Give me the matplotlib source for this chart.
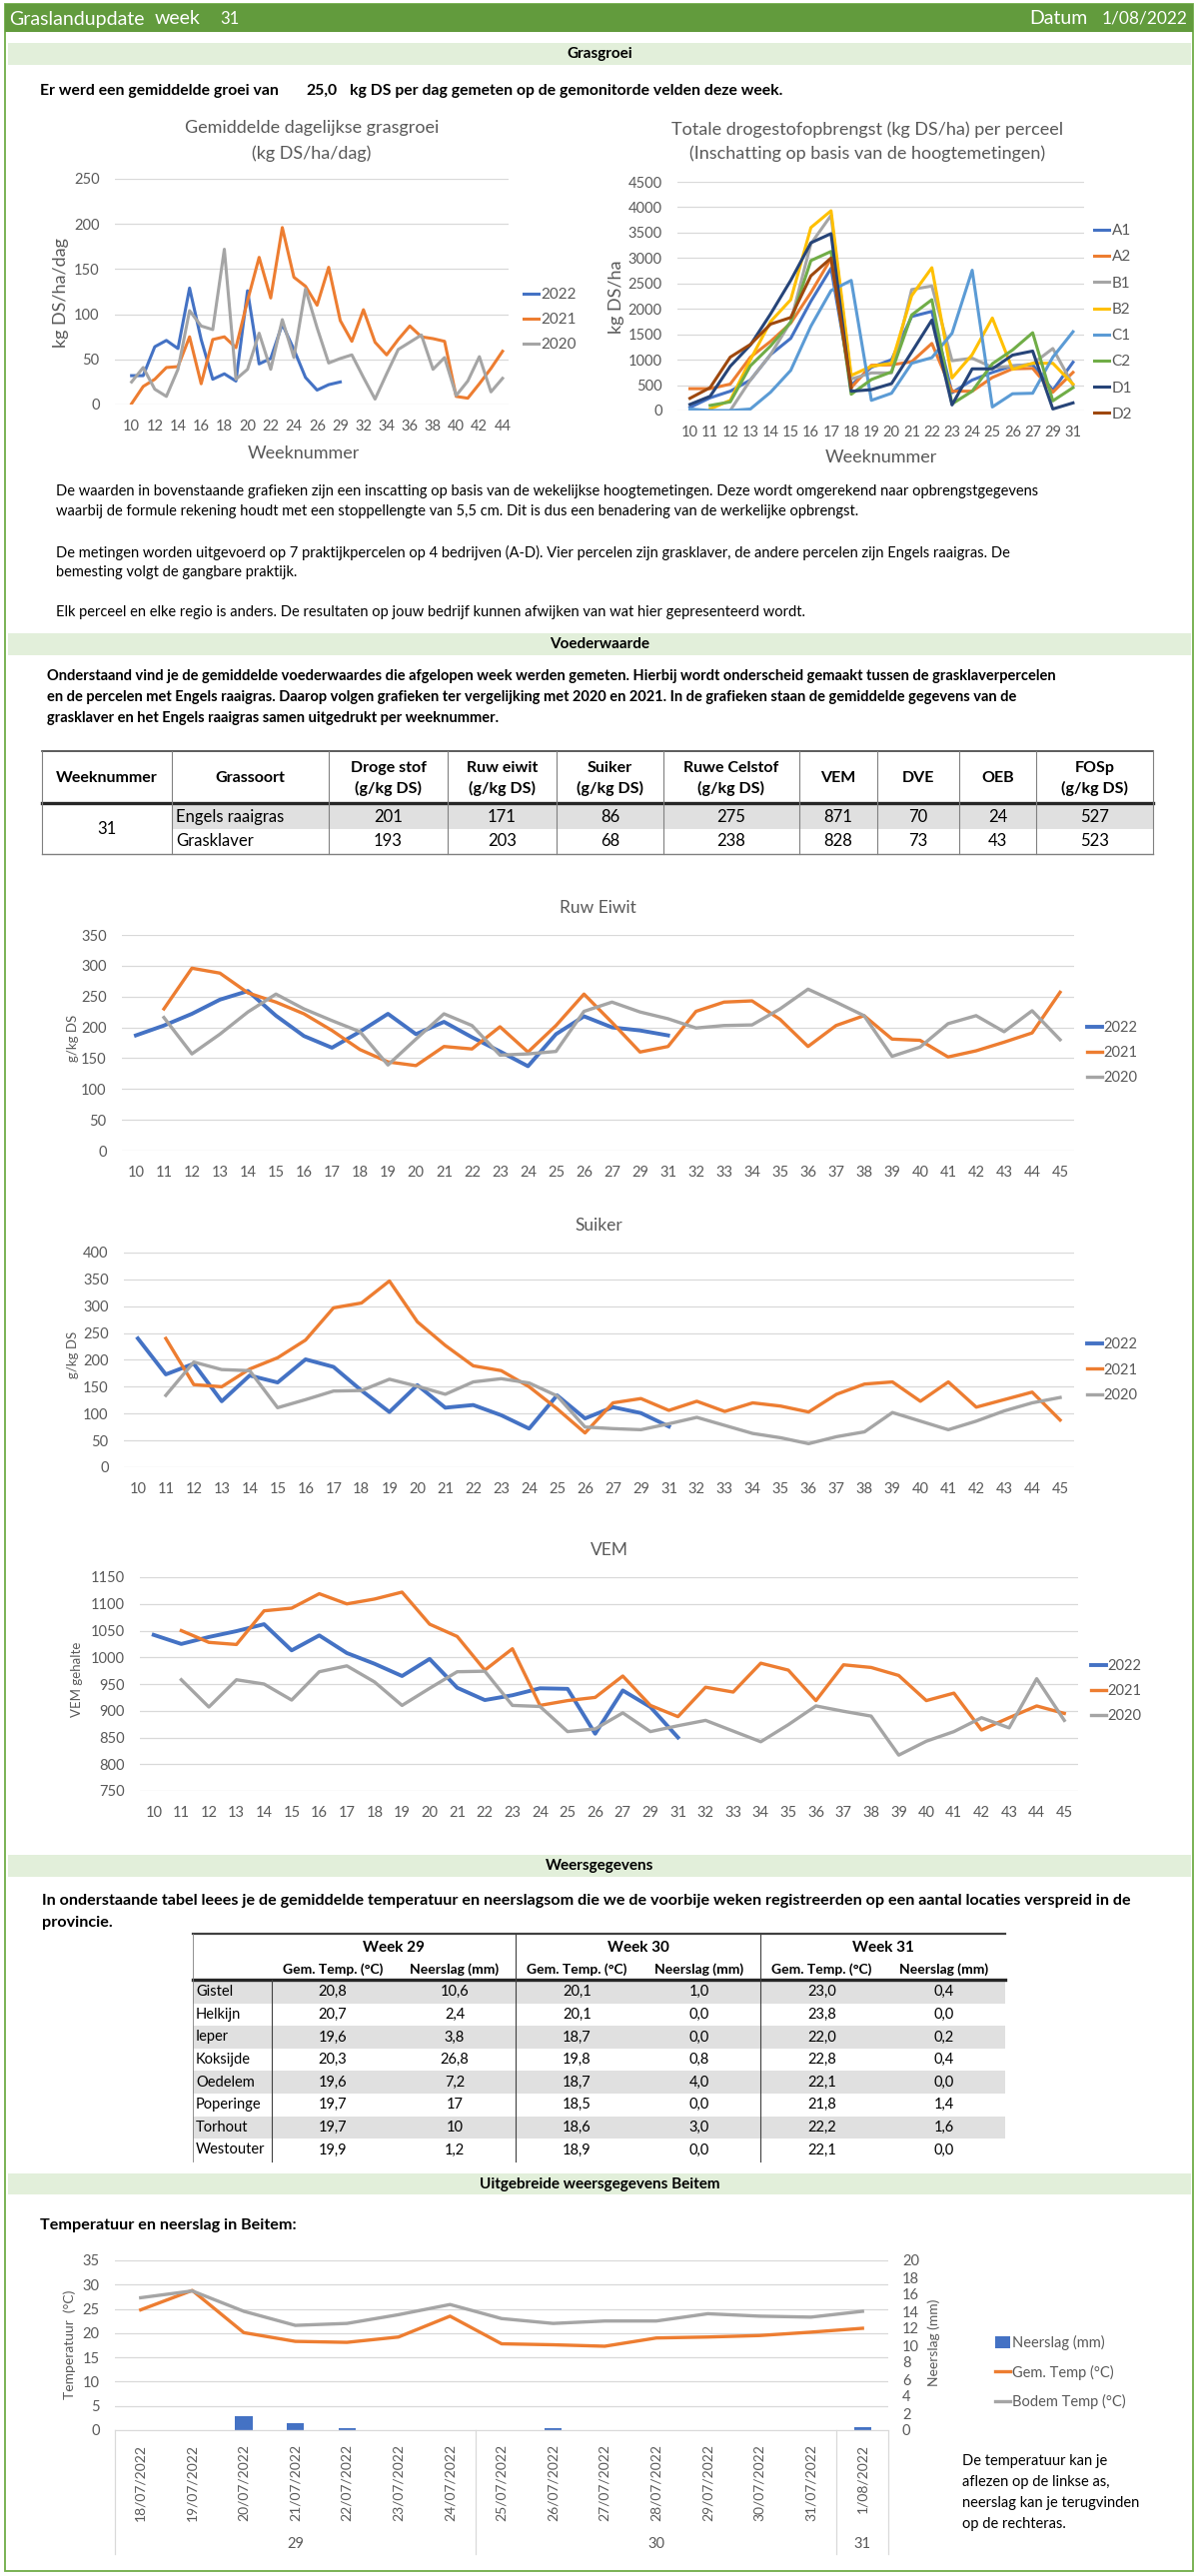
import numpy as np
import matplotlib
matplotlib.use("Agg")
import matplotlib.pyplot as plt
import matplotlib.transforms as mtransforms
from matplotlib.patches import Rectangle

plt.rcParams['font.family'] = ['Lato', 'DejaVu Sans']

W, H = 1200, 2579
GREEN = '#629B3D'
BORDER = '#70AD47'
LIGHT = '#E2EFDA'
C22, C21, C20 = '#4472C4', '#ED7D31', '#A5A5A5'
TXT = '#595959'

# ---- grasgroei (kg DS/ha/dag) ----
groei_weeks = list(range(10, 28)) + [29, 31] + list(range(32, 45))
groei_2022 = [32, 32, 64, 71, 62, 129, 72, 28, 34, 26, 126, 45, 51, 89, 61, 30, 16, 22, 25]
groei_2021 = [1, 20, 28, 41, 42, 75, 23, 72, 75, 63, 115, 163, 118, 196, 141,
              131, 110, 152, 93, 70, 105, 69, 55, 72, 87, 75, 73, 70, 9, 7, 23, 40, 59]
groei_2020 = [25, 41, 17, 9, 39, 104, 87, 83, 172, 28, 39, 79, 39, 94, 52,
              128, 85, 46, 51, 55, 30, 6, 34, 61, 69, 77, 39, 52, 10, 26, 53, 14, 29]

# ---- totale drogestofopbrengst per perceel (kg DS/ha) ----
ds_weeks = list(range(10, 28)) + [29, 31]
nan = np.nan
ds_A1 = [60, 250, 380, 600, 1100, 1420, 2150, 2800, 500, 850, 1000, 1850, 1950, 350, 600, 750, 880, 900, 400, 950]
ds_A2 = [430, 430, 520, 1050, 1360, 1720, 2320, 2990, 450, 890, 900, 960, 1320, 380, 380, 650, 820, 830, 360, 750]
ds_B1 = [nan, nan, 0, 600, 1100, 1750, 3280, 3840, 620, 740, 740, 2380, 2450, 980, 1030, 850, 870, 920, 1220, 500]
ds_B2 = [nan, 30, 200, 1000, 1750, 2180, 3600, 3930, 690, 870, 930, 2260, 2810, 640, 1100, 1820, 810, 930, 930, 520]
ds_C1 = [30, 0, 0, 30, 360, 790, 1660, 2360, 2560, 200, 340, 930, 1040, 1520, 2760, 70, 330, 340, 1050, 1550]
ds_C2 = [nan, 100, 170, 880, 1270, 1740, 2950, 3130, 320, 610, 760, 1880, 2180, 130, 380, 920, 1190, 1530, 190, 450]
ds_D1 = [120, 280, 870, 1290, 1900, 2560, 3300, 3480, 380, 410, 530, 1150, 1780, 110, 820, 820, 1090, 1170, 30, 150]
ds_D2 = [240, 450, 1050, 1300, 1700, 1830, 2650, 3000, 450]
ds_names = ['A1', 'A2', 'B1', 'B2', 'C1', 'C2', 'D1', 'D2']
ds_colors = ['#4472C4', '#ED7D31', '#A5A5A5', '#FFC000', '#5B9BD5', '#70AD47', '#264478', '#9E480E']

# ---- voederwaarde tabel ----
vw_header = ['Weeknummer', 'Grassoort', 'Droge stof\n(g/kg DS)', 'Ruw eiwit\n(g/kg DS)', 'Suiker\n(g/kg DS)',
             'Ruwe Celstof\n(g/kg DS)', 'VEM', 'DVE', 'OEB', 'FOSp\n(g/kg DS)']
vw_week = '31'
vw_soort = ['Engels raaigras', 'Grasklaver']
vw_values = [[201, 171, 86, 275, 871, 70, 24, 527],
             [193, 203, 68, 238, 828, 73, 43, 523]]

# ---- voederwaarde per week ----
vw_weeks = list(range(10, 28)) + [29, 31] + list(range(32, 46))
eiwit_2022 = [187, 203, 222, 245, 259, 219, 186, 167, 193, 222, 189, 209, 184, 161, 137, 189, 218, 200, 195, 187]
eiwit_2021 = [nan, 230, 296, 288, 256, 241, 222, 195, 164, 144, 138, 169, 165, 201, 160, 203, 254, 208, 160,
              169, 226, 241, 243, 213, 169, 203, 219, 181, 179, 152, 162, 176, 191, 257]
eiwit_2020 = [nan, 216, 157, 189, 225, 254, 230, 211, 193, 139, 181, 222, 203, 155, 157, 161, 226, 241, 225,
              214, 199, 203, 204, 230, 262, 241, 219, 153, 168, 206, 219, 193, 227, 180]
suiker_2022 = [240, 173, 193, 123, 171, 158, 201, 187, 143, 103, 153, 111, 116, 97, 72, 134, 91, 112, 101, 76]
suiker_2021 = [nan, 240, 154, 150, 183, 204, 237, 297, 306, 347, 271, 227, 189, 180, 150, 109, 64, 120, 128,
               106, 123, 104, 120, 114, 103, 136, 155, 159, 123, 159, 112, 126, 140, 88]
suiker_2020 = [nan, 134, 196, 182, 180, 111, 126, 142, 143, 164, 151, 136, 159, 165, 157, 133, 75, 72, 70,
               81, 93, 78, 63, 55, 44, 57, 66, 102, 86, 70, 86, 105, 120, 130]
vem_2022 = [1042, 1025, 1038, 1049, 1062, 1013, 1041, 1008, 988, 965, 997, 943, 920, 929, 942, 941, 857, 938, 907, 850]
vem_2021 = [nan, 1050, 1028, 1024, 1087, 1092, 1119, 1100, 1109, 1122, 1062, 1039, 976, 1016, 910, 919, 925, 965,
            910, 889, 944, 935, 989, 976, 919, 986, 981, 966, 919, 933, 864, 887, 909, 895]
vem_2020 = [nan, 958, 907, 958, 950, 920, 973, 984, 954, 910, 942, 973, 974, 910, 908, 861, 866, 896, 861,
            872, 882, 862, 842, 874, 909, 899, 890, 817, 843, 861, 887, 868, 960, 882]

# ---- weersgegevens ----
locaties = ['Gistel', 'Helkijn', 'Ieper', 'Koksijde', 'Oedelem', 'Poperinge', 'Torhout', 'Westouter']
weer_weken = ['Week 29', 'Week 30', 'Week 31']
temp_w29 = ['20,8', '20,7', '19,6', '20,3', '19,6', '19,7', '19,7', '19,9']
neer_w29 = ['10,6', '2,4', '3,8', '26,8', '7,2', '17', '10', '1,2']
temp_w30 = ['20,1', '20,1', '18,7', '19,8', '18,7', '18,5', '18,6', '18,9']
neer_w30 = ['1,0', '0,0', '0,0', '0,8', '4,0', '0,0', '3,0', '0,0']
temp_w31 = ['23,0', '23,8', '22,0', '22,8', '22,1', '21,8', '22,2', '22,1']
neer_w31 = ['0,4', '0,0', '0,2', '0,4', '0,0', '1,4', '1,6', '0,0']

# ---- Beitem ----
beitem_dagen = ['18/07/2022', '19/07/2022', '20/07/2022', '21/07/2022', '22/07/2022', '23/07/2022', '24/07/2022',
                '25/07/2022', '26/07/2022', '27/07/2022', '28/07/2022', '29/07/2022', '30/07/2022', '31/07/2022',
                '1/08/2022']
beitem_week = [29, 29, 29, 29, 29, 29, 29, 30, 30, 30, 30, 30, 30, 30, 31]
neerslag = [0, 0, 1.7, 0.8, 0.2, 0, 0, 0, 0.2, 0, 0, 0, 0, 0, 0.3]
gem_temp = [24.8, 28.8, 20.1, 18.3, 18.1, 19.2, 23.5, 17.8, 17.6, 17.3, 19.0, 19.2, 19.5, 20.2, 21.0]
bodem_temp = [27.3, 28.7, 24.5, 21.6, 22.0, 23.8, 25.9, 23.0, 22.0, 22.5, 22.5, 24.0, 23.5, 23.3, 24.5]

fig = plt.figure(figsize=(W / 100, H / 100), dpi=100)
bg = fig.add_axes([0, 0, 1, 1])
bg.set_xlim(0, W)
bg.set_ylim(H, 0)
bg.axis('off')


def add_px_axes(x0, y0, x1, y1):
    return fig.add_axes([x0 / W, 1 - y1 / H, (x1 - x0) / W, (y1 - y0) / H])


def fpt(x, y):
    return (x / W, 1 - y / H)


def excel_style(ax, lo, hi, step, fs, pad=10):
    ax.set_ylim(lo, hi)
    ax.set_yticks(np.arange(lo, hi + step / 2, step))
    ax.grid(axis='y', color='#D9D9D9', lw=0.9)
    ax.set_axisbelow(True)
    for s in ax.spines.values():
        s.set_visible(False)
    ax.tick_params(length=0, colors=TXT, labelsize=fs, pad=pad)


def legend_at(ax, handles, labels, x, y, fs, spacing=0.45, hl=1.0):
    ax.legend(handles, labels, loc='center left', bbox_to_anchor=fpt(x, y), bbox_transform=fig.transFigure,
              frameon=False, fontsize=fs, handlelength=hl, handletextpad=0.15, labelspacing=spacing,
              borderpad=0, borderaxespad=0, labelcolor=TXT)


def section_bar(y0, y1, title):
    bg.add_patch(Rectangle((8, y0), 1184, y1 - y0, color=LIGHT, lw=0))
    bg.text(600, (y0 + y1) / 2, title, ha='center', va='center', fontsize=11, fontweight='bold')


# page frame + header
bg.add_patch(Rectangle((5, 4), 1189, 2570, fill=False, edgecolor=BORDER, lw=1.3))
bg.add_patch(Rectangle((5, 4), 1189, 28, color=GREEN, lw=0))
bg.text(9, 19, 'Graslandupdate', color='white', fontsize=14, va='center')
bg.text(155, 19, 'week', color='white', fontsize=14, va='center')
bg.text(220, 19, vw_week, color='white', fontsize=12, va='center')
bg.text(1030, 19, 'Datum', color='white', fontsize=14, va='center')
bg.text(1189, 19, '1/08/2022', color='white', fontsize=12.5, va='center', ha='right')

section_bar(43, 65, 'Grasgroei')
bg.text(40, 91, 'Er werd een gemiddelde groei van', fontsize=11.3, fontweight='bold', va='center')
bg.text(306, 91, '25,0', fontsize=11.3, fontweight='bold', va='center')
bg.text(350, 91, 'kg DS per dag gemeten op de gemonitorde velden deze week.', fontsize=11.3,
        fontweight='bold', va='center')

# ---- left chart: grasgroei ----
ax = add_px_axes(115, 179, 509, 405)
idx = np.arange(len(groei_weeks))
for vals, col, lab in [(groei_2022, C22, '2022'), (groei_2021, C21, '2021'), (groei_2020, C20, '2020')]:
    ax.plot(idx[:len(vals)], vals, color=col, lw=2.2, label=lab)
excel_style(ax, 0, 250, 50, 10.5, pad=11)
ax.set_xlim(-1.44, len(groei_weeks) - 1 + 0.52)
ax.set_xticks(idx[::2], [str(w) for w in groei_weeks[::2]])
h, l = ax.get_legend_handles_labels()
legend_at(ax, h, l, 524, 320, 11, spacing=0.72)
bg.text(312, 128, 'Gemiddelde dagelijkse grasgroei', ha='center', va='center', fontsize=13, color=TXT)
bg.text(312, 154, '(kg DS/ha/dag)', ha='center', va='center', fontsize=13, color=TXT)
bg.text(61, 293, 'kg DS/ha/dag', rotation=90, ha='center', va='center', fontsize=13, color=TXT)
bg.text(304, 454, 'Weeknummer', ha='center', va='center', fontsize=13, color=TXT)

# ---- right chart: drogestofopbrengst ----
ax = add_px_axes(678, 182, 1085, 411)
idx = np.arange(len(ds_weeks))
for vals, col, lab in zip([ds_A1, ds_A2, ds_B1, ds_B2, ds_C1, ds_C2, ds_D1, ds_D2], ds_colors, ds_names):
    ax.plot(idx[:len(vals)], vals, color=col, lw=2.2, label=lab)
excel_style(ax, 0, 4500, 500, 10.5, pad=11)
ax.set_xlim(-0.62, len(ds_weeks) - 1 + 0.55)
ax.set_xticks(idx, [str(w) for w in ds_weeks])
h, l = ax.get_legend_handles_labels()
legend_at(ax, h, l, 1095, 323, 11, spacing=0.8)
bg.text(868, 130, 'Totale drogestofopbrengst (kg DS/ha) per perceel', ha='center', va='center',
        fontsize=13, color=TXT)
bg.text(868, 154, '(Inschatting op basis van de hoogtemetingen)', ha='center', va='center',
        fontsize=13, color=TXT)
bg.text(617, 297, 'kg DS/ha', rotation=90, ha='center', va='center', fontsize=13, color=TXT)
bg.text(882, 458, 'Weeknummer', ha='center', va='center', fontsize=13, color=TXT)

# paragraph under grasgroei
par1 = ['De waarden in bovenstaande grafieken zijn een inscatting op basis van de wekelijkse hoogtemetingen. '
        'Deze wordt omgerekend naar opbrengstgegevens',
        'waarbij de formule rekening houdt met een stoppellengte van 5,5 cm. Dit is dus een benadering van de '
        'werkelijke opbrengst.',
        'De metingen worden uitgevoerd op 7 praktijkpercelen op 4 bedrijven (A-D). Vier percelen zijn grasklaver, '
        'de andere percelen zijn Engels raaigras. De',
        'bemesting volgt de gangbare praktijk.',
        'Elk perceel en elke regio is anders. De resultaten op jouw bedrijf kunnen afwijken van wat hier '
        'gepresenteerd wordt.']
for line, y in zip(par1, [492, 512, 553, 573, 613]):
    bg.text(56, y, line, fontsize=10.5, va='center')

# ---- voederwaarde ----
section_bar(634, 656, 'Voederwaarde')
par2 = ['Onderstaand vind je de gemiddelde voederwaardes die afgelopen week werden gemeten. Hierbij wordt '
        'onderscheid gemaakt tussen de grasklaverpercelen',
        'en de percelen met Engels raaigras. Daarop volgen grafieken ter vergelijking met 2020 en 2021. In de '
        'grafieken staan de gemiddelde gegevens van de',
        'grasklaver en het Engels raaigras samen uitgedrukt per weeknummer.']
for line, y in zip(par2, [677, 698, 719]):
    bg.text(47, y, line, fontsize=10.5, fontweight='bold', va='center')

cols = [42, 172, 329, 448, 557, 664, 800, 878, 960, 1037, 1154]
bg.add_patch(Rectangle((cols[1], 806), cols[-1] - cols[1], 24, color='#E0E0E0', lw=0))
bg.plot([cols[0], cols[-1]], [752, 752], color='#404040', lw=1.2)
bg.plot([cols[0], cols[-1]], [804, 804], color='#262626', lw=2.4)
bg.plot([cols[0], cols[-1]], [855, 855], color='#808080', lw=1.0)
for c in cols:
    bg.plot([c, c], [752, 855], color='#808080', lw=0.8)
for j, head in enumerate(vw_header):
    cx = (cols[j] + cols[j + 1]) / 2
    parts = head.split('\n')
    for k, p in enumerate(parts):
        bg.text(cx, 779 + (k - (len(parts) - 1) / 2) * 20, p, ha='center', va='center', fontsize=11.5,
                fontweight='bold')
bg.text((cols[0] + cols[1]) / 2, 830, vw_week, ha='center', va='center', fontsize=12)
for r, (soort, vals) in enumerate(zip(vw_soort, vw_values)):
    y = 818 + r * 24
    bg.text(cols[1] + 4, y, soort, ha='left', va='center', fontsize=12)
    for j, v in enumerate(vals):
        bg.text((cols[j + 2] + cols[j + 3]) / 2, y, str(v), ha='center', va='center', fontsize=12)


def week_chart(box, series, lo, hi, step, title, title_y, ylabel, ylabel_x, leg_x, leg_dy):
    ax = add_px_axes(*box)
    idx = np.arange(len(vw_weeks))
    for vals, col, lab, lw in series:
        ax.plot(idx[:len(vals)], vals, color=col, lw=lw, label=lab)
    excel_style(ax, lo, hi, step, 10.5, pad=11)
    ax.set_xlim(-0.5, len(vw_weeks) - 0.5)
    ax.set_xticks(idx, [str(w) for w in vw_weeks])
    h, l = ax.get_legend_handles_labels()
    yc = (box[1] + box[3]) / 2 + leg_dy
    legend_at(ax, h, l, leg_x, yc, 10.5, spacing=0.78)
    cx = (box[0] + box[2]) / 2
    bg.text(cx, title_y, title, ha='center', va='center', fontsize=12.5, color=TXT)
    bg.text(ylabel_x, (box[1] + box[3]) / 2 - 5, ylabel, rotation=90, ha='center', va='center',
            fontsize=9.5, color=TXT)
    return ax


week_chart((122, 936, 1075, 1152),
           [(eiwit_2022, C22, '2022', 2.8), (eiwit_2021, C21, '2021', 2.4), (eiwit_2020, C20, '2020', 2.4)],
           0, 350, 50, 'Ruw Eiwit', 909, 'g/kg DS', 73, 1088, 10)
week_chart((124, 1254, 1075, 1469),
           [(suiker_2022, C22, '2022', 2.8), (suiker_2021, C21, '2021', 2.4), (suiker_2020, C20, '2020', 2.4)],
           0, 400, 50, 'Suiker', 1227, 'g/kg DS', 73, 1088, 10)
week_chart((140, 1579, 1079, 1793),
           [(vem_2022, C22, '2022', 2.8), (vem_2021, C21, '2021', 2.4), (vem_2020, C20, '2020', 2.4)],
           750, 1150, 50, 'VEM', 1552, 'VEM gehalte', 77, 1092, 7)

# ---- weersgegevens ----
section_bar(1857, 1879, 'Weersgegevens')
par3 = ['In onderstaande tabel leees je de gemiddelde temperatuur en neerslagsom die we de voorbije weken '
        'registreerden op een aantal locaties verspreid in de',
        'provincie.']
for line, y in zip(par3, [1903, 1925]):
    bg.text(42, y, line, fontsize=11.6, fontweight='bold', va='center')

tx0, tx1 = 193, 1006
name_r = 272
week_edges = [272, 516, 761, 1006]
row_h = 22.6
row_top = 1983
for i in range(len(locaties)):
    if i % 2 == 0:
        bg.add_patch(Rectangle((tx0, row_top + i * row_h), tx1 - tx0, row_h, color='#E0E0E0', lw=0))
bg.plot([tx0, tx1], [1936, 1936], color='#404040', lw=1.6)
bg.plot([tx0, tx1], [1982, 1982], color='#262626', lw=2.4)
bottom = row_top + len(locaties) * row_h
bg.plot([name_r, name_r], [1982, bottom], color='#404040', lw=0.8)
for e in week_edges[1:3]:
    bg.plot([e, e], [1936, bottom], color='#404040', lw=0.8)
bg.plot([tx0, tx0], [1936, bottom], color='#808080', lw=0.6)
weer_cols = [(temp_w29, neer_w29), (temp_w30, neer_w30), (temp_w31, neer_w31)]
for k, (wk, (tcol, ncol)) in enumerate(zip(weer_weken, weer_cols)):
    a, b = week_edges[k], week_edges[k + 1]
    ct = a + (b - a) * 0.25
    cn = a + (b - a) * 0.75
    bg.text((a + b) / 2, 1950, wk, ha='center', va='center', fontsize=11, fontweight='bold')
    bg.text(ct, 1972, 'Gem. Temp. (°C)', ha='center', va='center', fontsize=10, fontweight='bold')
    bg.text(cn, 1972, 'Neerslag (mm)', ha='center', va='center', fontsize=10, fontweight='bold')
    for i in range(len(locaties)):
        y = row_top + (i + 0.5) * row_h
        bg.text(ct, y, tcol[i], ha='center', va='center', fontsize=10.5)
        bg.text(cn, y, ncol[i], ha='center', va='center', fontsize=10.5)
for i, loc in enumerate(locaties):
    bg.text(tx0 + 3, row_top + (i + 0.5) * row_h, loc, ha='left', va='center', fontsize=10.5)

# ---- Beitem ----
section_bar(2176, 2197, 'Uitgebreide weersgegevens Beitem')
bg.text(40, 2228, 'Temperatuur en neerslag in Beitem:', fontsize=11.6, fontweight='bold', va='center')

ax = add_px_axes(115, 2263, 889, 2433)
ax2 = ax.twinx()
idx = np.arange(len(beitem_dagen))
ax2.bar(idx, neerslag, width=0.33, color=C22, label='Neerslag (mm)')
ax.plot(idx, gem_temp, color=C21, lw=2.4, label='Gem. Temp (°C)')
ax.plot(idx, bodem_temp, color=C20, lw=2.4, label='Bodem Temp (°C)')
ax.set_zorder(ax2.get_zorder() + 1)
ax.patch.set_visible(False)
excel_style(ax, 0, 35, 5, 10.5, pad=11)
ax.spines['bottom'].set_visible(True)
ax.spines['bottom'].set_color('#D9D9D9')
ax2.set_ylim(0, 20)
ax2.set_yticks(np.arange(0, 21, 2))
for s in ax2.spines.values():
    s.set_visible(False)
ax2.tick_params(length=0, colors=TXT, labelsize=10.5, pad=10)
ax.set_xlim(-0.5, len(beitem_dagen) - 0.5)
ax.set_xticks(idx, beitem_dagen, rotation=90)
ax.tick_params(axis='x', labelsize=10, pad=10)
for t in ax.get_xticklabels():
    t.set_va('top')

# week groups under the dates
trans = mtransforms.blended_transform_factory(ax.transData, ax.transAxes)
groups = []
for i, w in enumerate(beitem_week):
    if not groups or groups[-1][0] != w:
        groups.append([w, i, i])
    else:
        groups[-1][2] = i
edges = [g[1] - 0.5 for g in groups] + [groups[-1][2] + 0.5]
for e in edges:
    ax.plot([e, e], [0, -0.73], transform=trans, color='#D9D9D9', lw=0.9, clip_on=False)
for w, i0, i1 in groups:
    ax.text((i0 + i1) / 2, -0.67, str(w), transform=trans, ha='center', va='center', fontsize=10.5, color=TXT)

bg.text(70, 2347, 'Temperatuur  (°C)', rotation=90, ha='center', va='center', fontsize=10, color=TXT)
bg.text(935, 2345, 'Neerslag (mm)', rotation=90, ha='center', va='center', fontsize=10, color=TXT)
h1, l1 = ax2.get_legend_handles_labels()
h2, l2 = ax.get_legend_handles_labels()
ax.legend(h1 + h2, l1 + l2, loc='center left', bbox_to_anchor=fpt(996, 2375), bbox_transform=fig.transFigure,
          frameon=False, fontsize=10.5, handlelength=1.0, handleheight=0.9, handletextpad=0.15,
          labelspacing=1.0, borderpad=0, borderaxespad=0, labelcolor=TXT)

note = ['De temperatuur kan je', 'aflezen op de linkse as,', 'neerslag kan je terugvinden', 'op de rechteras.']
for line, y in zip(note, [2464, 2485, 2506, 2527]):
    bg.text(963, y, line, fontsize=10.5, va='center')

fig.savefig('out.png', dpi=100)
